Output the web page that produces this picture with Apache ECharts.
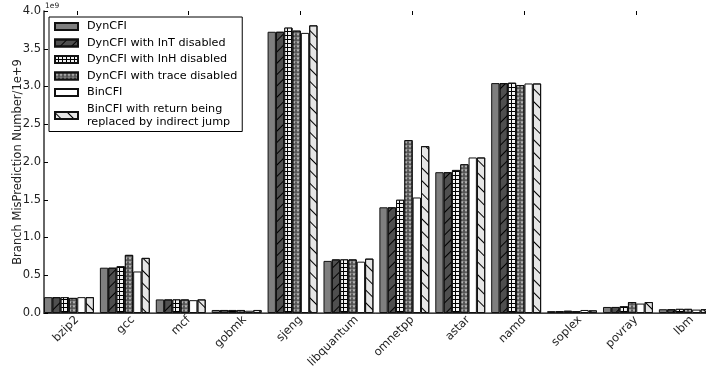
<!DOCTYPE html>
<html><head><meta charset="utf-8">
<script src="https://cdn.jsdelivr.net/npm/echarts@6/dist/echarts.min.js"></script>
<style>html,body{margin:0;padding:0;background:#fff}#c{width:706px;height:366px}</style>
</head><body><div id="c"></div>
<script>
const categories = ['bzip2','gcc','mcf','gobmk','sjeng','libquantum','omnetpp','astar','namd','soplex','povray','lbm'];
const seriesNames = ['DynCFI','DynCFI with InT disabled','DynCFI with InH disabled','DynCFI with trace disabled','BinCFI','BinCFI with return being\nreplaced by indirect jump'];
const dynCFI        = [0.21,0.60,0.18,0.04,3.725,0.69,1.40,1.865,3.045,0.025,0.08,0.05];
const dynCFINoInT   = [0.21,0.60,0.18,0.04,3.725,0.71,1.40,1.865,3.045,0.025,0.08,0.05];
const dynCFINoInH   = [0.21,0.62,0.18,0.04,3.78,0.71,1.50,1.895,3.05,0.03,0.09,0.055];
const dynCFINoTrace = [0.20,0.77,0.18,0.04,3.74,0.71,2.29,1.97,3.02,0.025,0.145,0.055];
const binCFI        = [0.21,0.55,0.17,0.03,3.71,0.68,1.53,2.06,3.04,0.04,0.125,0.045];
const binCFIReturn  = [0.21,0.73,0.18,0.04,3.81,0.72,2.21,2.06,3.04,0.035,0.145,0.05];
const yMin = 0, yMax = 4, yInterval = 0.5;

const FONT = 'DejaVu Sans';
const GW = 670.8, GH = 302, GT = 11;
const star = 'path://M50,0 L61,35 L98,35 L68,57 L79,91 L50,70 L21,91 L32,57 L2,35 L39,35 Z';

const styles = [
  {color:'#7f7f7f'},
  {color:'#4f4f4f', decal:{symbol:'rect', color:'#000', dashArrayX:[1,0], dashArrayY:[1,7], rotation:-Math.PI/4}},
  {color:'#000', decal:{symbol:'rect', color:'#f2f2f2', dashArrayX:[3,1], dashArrayY:[3,1], symbolSize:1}},
  {color:'#555555', decal:{symbol:star, color:'#c4c4c4', dashArrayX:[4,0], dashArrayY:[4,0], symbolSize:0.9}},
  {color:'#ffffff'},
  {color:'#e6e6e6', decal:{symbol:'rect', color:'#000', dashArrayX:[1,0], dashArrayY:[1,8], rotation:Math.PI/4}}
];
const dataSets = [dynCFI, dynCFINoInT, dynCFINoInH, dynCFINoTrace, binCFI, binCFIReturn];

const chart = echarts.init(document.getElementById('c'), null, {renderer:'canvas'});
chart.setOption({
  animation:false,
  backgroundColor:'#fff',
  textStyle:{fontFamily:FONT},
  title:{text:'1e9', left:45, top:2, padding:0,
    textStyle:{fontSize:7.5, color:'#222', fontWeight:'normal', fontFamily:FONT}},
  grid:[
    {left:41, top:GT, width:GW, height:GH, outerBoundsMode:'none', containLabel:false},
    {left:49, top:GT, width:GW, height:GH, outerBoundsMode:'none', containLabel:false},
    {left:44, top:GT, width:GW, height:GH, outerBoundsMode:'none', containLabel:false}
  ],
  legend:{
    data:seriesNames, orient:'vertical', left:49, top:17,
    itemWidth:23, itemHeight:7, itemGap:3.5, padding:[3,5,3,5],
    borderColor:'#000', borderWidth:1, backgroundColor:'#fff',
    icon:'rect',
    textStyle:{fontSize:11.2, color:'#000', lineHeight:13, fontFamily:FONT, padding:[0,0,0,4]}
  },
  xAxis:[
    {gridIndex:0, type:'category', data:categories, show:false},
    {gridIndex:1, type:'category', data:categories, position:'bottom',
      axisLine:{show:false}, axisTick:{show:false},
      axisLabel:{rotate:45, fontSize:11.5, color:'#222', margin:5, fontFamily:FONT, interval:0}},
    {gridIndex:1, type:'category', data:categories, position:'top',
      axisLine:{show:false}, axisLabel:{show:false},
      axisTick:{show:true, inside:true, length:4, alignWithLabel:true, lineStyle:{color:'#000'}}},
    {gridIndex:2, type:'category', data:categories, position:'bottom',
      axisLine:{show:true, lineStyle:{color:'#000', width:1}}, axisTick:{show:false}, axisLabel:{show:false}},
    {gridIndex:2, type:'category', data:categories, position:'top',
      axisLine:{show:true, lineStyle:{color:'#555', width:1.5}}, axisTick:{show:false}, axisLabel:{show:false}}
  ],
  yAxis:[
    {gridIndex:0, type:'value', min:yMin, max:yMax, show:false},
    {gridIndex:1, type:'value', min:yMin, max:yMax, show:false},
    {gridIndex:2, type:'value', position:'left', min:yMin, max:yMax, interval:yInterval,
      axisLine:{show:true, lineStyle:{color:'#333', width:1.5}},
      axisTick:{show:true, inside:true, length:4, lineStyle:{color:'#000'}},
      splitLine:{show:false},
      axisLabel:{formatter:v=>v.toFixed(1), fontSize:11.5, color:'#222', margin:3, fontFamily:FONT}},
    {gridIndex:2, type:'value', position:'left', min:yMin, max:yMax,
      axisLine:{show:false}, axisTick:{show:false}, axisLabel:{show:false}, splitLine:{show:false},
      name:'Branch MisPrediction Number/1e+9', nameLocation:'middle', nameGap:20, nameRotate:90,
      nameTextStyle:{fontSize:11.5, color:'#222', fontFamily:FONT}}
  ],
  series: dataSets.map((d,i)=>({
    type:'bar', name:seriesNames[i], data:d, xAxisIndex:0, yAxisIndex:0,
    barWidth:8.32, barGap:'0%',
    itemStyle:Object.assign({borderColor:'#111', borderWidth:1}, styles[i])
  }))
});
</script></body></html>
